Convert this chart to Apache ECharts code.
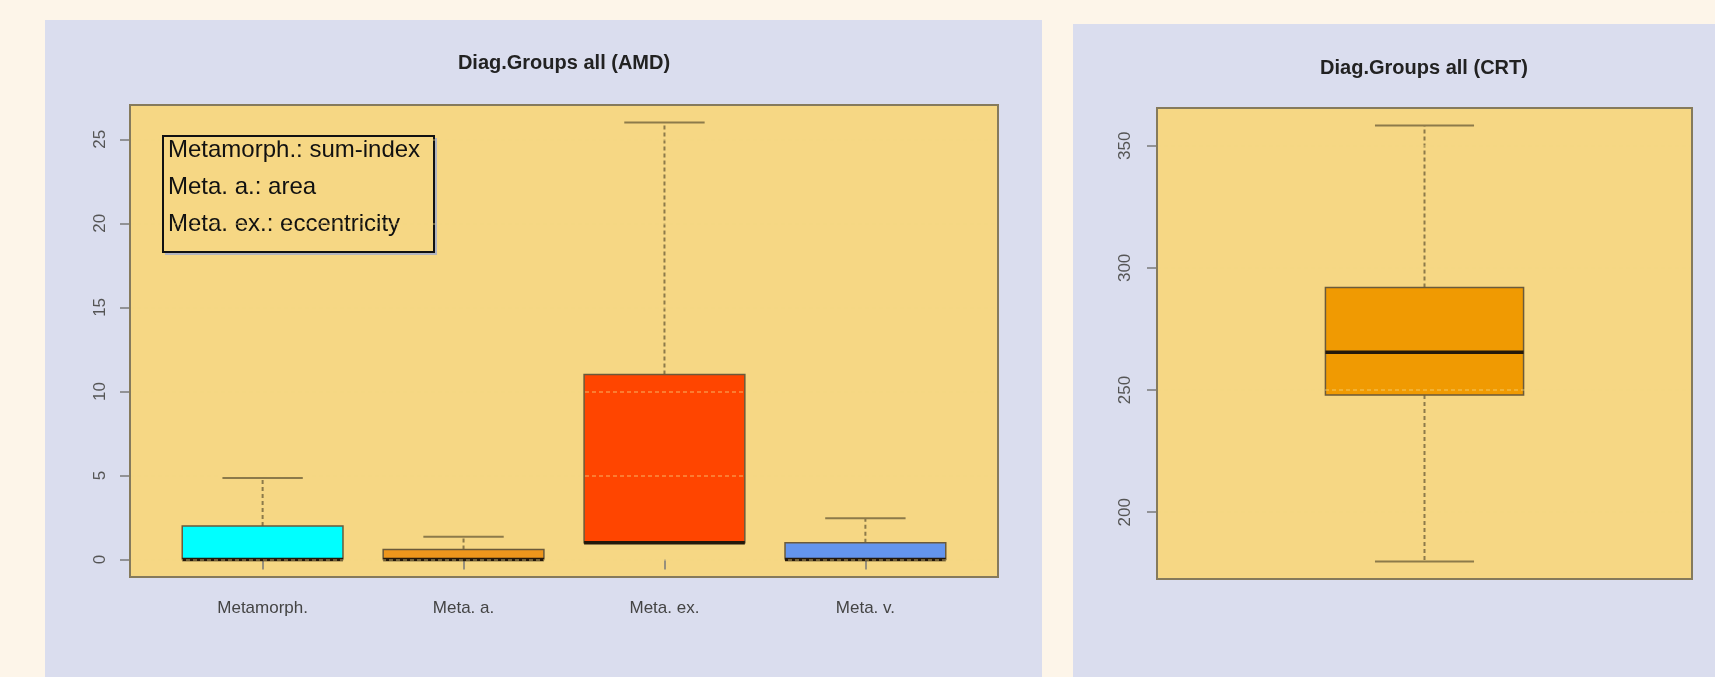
<!DOCTYPE html>
<html>
<head>
<meta charset="utf-8">
<title>Diag.Groups all</title>
<script src="https://cdn.jsdelivr.net/npm/echarts@6/dist/echarts.min.js"></script>
<style>
  html, body { margin: 0; padding: 0; background: #FDF5E9; }
  #chart { width: 1715px; height: 677px; }
</style>
</head>
<body>
<div id="chart"></div>
<script>
// AMD measures per group: five-number summaries
const amdCategories = ['Metamorph.', 'Meta. a.', 'Meta. ex.', 'Meta. v.'];
const amdMin    = [0, 0, 1, 0];
const amdQ1     = [0, 0, 1, 0];
const amdMedian = [0, 0, 1, 0];
const amdQ3     = [2, 0.6, 11, 1];
const amdMax    = [4.85, 1.35, 26, 2.45];
const amdTicks  = [0, 5, 10, 15, 20, 25];

// CRT: single group
const crtMin    = [179.8];
const crtQ1     = [248];
const crtMedian = [265.5];
const crtQ3     = [292];
const crtMax    = [358.3];
const crtTicks  = [200, 250, 300, 350];

const legendLines = ['Metamorph.: sum-index', 'Meta. a.: area', 'Meta. ex.: eccentricity'];

// styling
const amdFill = ['#00FFFF', '#EE961C', '#FF4500', '#6495ED'];
const crtFill = ['#F09A02'];
const FONT = '"Liberation Sans", Arial, Helvetica, sans-serif';
const PLOT_BG = '#F6D784';
const PANEL_BG = '#DADDEE';
const FRAME = '#857a5c';
const WHISKER = '#8c7a4a';
const BORDER = '#6b5a3a';
const MEDIAN = '#24180a';

// plot regions (left, top, width, height)
const amdRect = { left: 130, top: 105, width: 868, height: 472 };
const crtRect = { left: 1157, top: 108, width: 535, height: 471 };

function rows(mins, q1s, meds, q3s, maxs) {
  return mins.map((v, i) => [i + 1, v, q1s[i], meds[i], q3s[i], maxs[i]]);
}

// R-style box: dashed whiskers, solid staples of half box width, thick median
function boxRenderer(boxWidth, fills) {
  return function (params, api) {
    const x = api.value(0);
    const lo = api.coord([x, api.value(1)]);
    const q1 = api.coord([x, api.value(2)]);
    const md = api.coord([x, api.value(3)]);
    const q3 = api.coord([x, api.value(4)]);
    const hi = api.coord([x, api.value(5)]);
    const w = api.size([boxWidth, 0])[0];
    const cx = lo[0];
    const whisk = { stroke: WHISKER, lineWidth: 2, lineDash: [4, 3] };
    const staple = { stroke: WHISKER, lineWidth: 2 };
    return {
      type: 'group',
      children: [
        { type: 'line', shape: { x1: cx, y1: q3[1], x2: cx, y2: hi[1] }, style: whisk },
        { type: 'line', shape: { x1: cx, y1: q1[1], x2: cx, y2: lo[1] }, style: whisk },
        { type: 'line', shape: { x1: cx - w / 4, y1: hi[1], x2: cx + w / 4, y2: hi[1] }, style: staple },
        { type: 'line', shape: { x1: cx - w / 4, y1: lo[1], x2: cx + w / 4, y2: lo[1] }, style: staple },
        { type: 'rect', shape: { x: cx - w / 2, y: q3[1], width: w, height: q1[1] - q3[1] },
          style: { fill: fills[params.dataIndex], stroke: BORDER, lineWidth: 1.5 } },
        { type: 'line', shape: { x1: cx - w / 2, y1: md[1], x2: cx + w / 2, y2: md[1] },
          style: { stroke: MEDIAN, lineWidth: 3.5 } }
      ]
    };
  };
}

function frame(r) {
  return { type: 'rect', z: 30, silent: true,
           shape: { x: r.left, y: r.top, width: r.width, height: r.height },
           style: { fill: null, stroke: FRAME, lineWidth: 2 } };
}

const tickStyle = { show: true, length: 10, lineStyle: { color: '#7a7a7a', width: 1.5 } };
// dashed grid drawn over the boxes, in the plot colour so it only shows on the fills
const gridLine = { show: true, lineStyle: { color: 'rgba(246,215,132,0.5)', width: 1.5, type: [4, 3] } };

const chart = echarts.init(document.getElementById('chart'), null, { renderer: 'canvas' });

chart.setOption({
  backgroundColor: '#FDF5E9',
  animation: false,
  graphic: [
    { type: 'rect', z: -10, shape: { x: 45, y: 20, width: 997, height: 657 }, style: { fill: PANEL_BG } },
    { type: 'rect', z: -10, shape: { x: 1073, y: 24, width: 642, height: 653 }, style: { fill: PANEL_BG } },
    frame(amdRect),
    frame(crtRect),
    { type: 'text', z: 5, x: 564, y: 63,
      style: { text: 'Diag.Groups all (AMD)', font: 'bold 20px ' + FONT, fill: '#222',
               textAlign: 'center', textVerticalAlign: 'middle' } },
    { type: 'text', z: 5, x: 1424, y: 68,
      style: { text: 'Diag.Groups all (CRT)', font: 'bold 20px ' + FONT, fill: '#222',
               textAlign: 'center', textVerticalAlign: 'middle' } },
    {
      type: 'group', z: 40,
      children: [
        { type: 'rect', shape: { x: 165, y: 138, width: 272, height: 117 }, style: { fill: '#B2B4BE' } },
        { type: 'rect', shape: { x: 163, y: 136, width: 271, height: 116 },
          style: { fill: PLOT_BG, stroke: '#111', lineWidth: 2 } }
      ].concat(legendLines.map((t, i) => ({
        type: 'text', x: 168, y: 150 + i * 37,
        style: { text: t, font: '24px ' + FONT, fill: '#111', textVerticalAlign: 'middle' }
      })))
    }
  ],
  grid: [
    Object.assign({ show: true, backgroundColor: PLOT_BG, borderWidth: 0 }, amdRect),
    Object.assign({ show: true, backgroundColor: PLOT_BG, borderWidth: 0 }, crtRect)
  ],
  xAxis: [
    {
      gridIndex: 0, type: 'value', min: 0.34, max: 4.66,
      axisLine: { show: false }, splitLine: { show: false },
      axisTick: Object.assign({}, tickStyle, { customValues: amdCategories.map((c, i) => i + 1) }),
      axisLabel: {
        customValues: amdCategories.map((c, i) => i + 1),
        formatter: v => amdCategories[Math.round(v) - 1],
        margin: 23, fontSize: 17, fontFamily: FONT, color: '#444'
      }
    },
    {
      gridIndex: 1, type: 'value', min: 0.46, max: 1.54,
      axisLine: { show: false }, splitLine: { show: false },
      axisTick: { show: false }, axisLabel: { show: false }
    }
  ],
  yAxis: [
    {
      gridIndex: 0, type: 'value', min: -1.04, max: 27.04, z: 10,
      axisLine: { show: false },
      axisTick: Object.assign({}, tickStyle, { customValues: amdTicks }),
      splitLine: gridLine,
      axisLabel: { customValues: amdTicks, rotate: 90, margin: 21, fontSize: 17,
                   fontFamily: FONT, color: '#555' }
    },
    {
      gridIndex: 1, type: 'value', min: 172.66, max: 365.44, z: 10,
      axisLine: { show: false },
      axisTick: Object.assign({}, tickStyle, { customValues: crtTicks }),
      splitLine: gridLine,
      axisLabel: { customValues: crtTicks, rotate: 90, margin: 23, fontSize: 17,
                   fontFamily: FONT, color: '#555' }
    }
  ],
  series: [
    {
      type: 'custom', name: 'AMD', xAxisIndex: 0, yAxisIndex: 0,
      renderItem: boxRenderer(0.8, amdFill),
      encode: { x: 0, y: [1, 2, 3, 4, 5] },
      data: rows(amdMin, amdQ1, amdMedian, amdQ3, amdMax)
    },
    {
      type: 'custom', name: 'CRT', xAxisIndex: 1, yAxisIndex: 1,
      renderItem: boxRenderer(0.4, crtFill),
      encode: { x: 0, y: [1, 2, 3, 4, 5] },
      data: rows(crtMin, crtQ1, crtMedian, crtQ3, crtMax)
    }
  ]
});
</script>
</body>
</html>
